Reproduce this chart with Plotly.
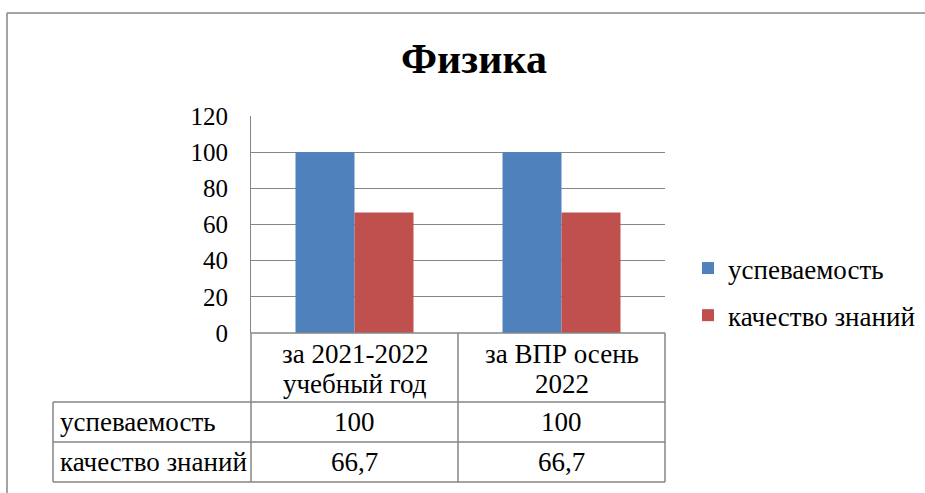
import plotly.graph_objects as go

categories = ["за 2021-2022<br>учебный год", "за ВПР осень<br>2022"]
series_names = ["успеваемость", "качество знаний"]
uspev = [100, 100]
kachestvo = [66.7, 66.7]
colors = ["#4F81BD", "#C0504D"]
title = "Физика"

W, H = 925, 493
def px(x):
    return x / W
def py(y):
    return 1 - y / H

FONT = "Liberation Serif"
FS = 27      # table / legend text
FS_TICK = 25
GRID = "#868686"

# plot area in pixels
L, R, T, B = 251, 665, 116, 333

fig = go.Figure()
for name, vals, col in zip(series_names, [uspev, kachestvo], colors):
    fig.add_trace(go.Bar(x=categories, y=vals, name=name, marker=dict(color=col, line=dict(width=0)),
                         legendgroup=name))

fig.update_layout(
    template="none",
    width=W, height=H,
    margin=dict(l=0, r=0, t=0, b=0, pad=0, autoexpand=False),
    paper_bgcolor="white", plot_bgcolor="white",
    font=dict(family=FONT, size=FS, color="black"),
    title=dict(text="<b>" + title + "</b>", x=px(474), xanchor="center", y=py(58), yanchor="middle",
               font=dict(size=42, family=FONT, color="black")),
    barmode="group", bargap=0.43, bargroupgap=0,
    showlegend=True,
    legend=dict(x=px(688), y=py(244), xanchor="left", yanchor="top",
                font=dict(size=FS, family=FONT, color="black"), tracegroupgap=9, traceorder="grouped",
                bgcolor="rgba(0,0,0,0)", borderwidth=0),
    xaxis=dict(domain=[px(L), px(R)], showticklabels=False, showgrid=False, zeroline=False,
               showline=False, ticks=""),
    yaxis=dict(domain=[py(B), py(T)], range=[0, 120], dtick=20, showgrid=True, gridcolor=GRID,
               gridwidth=1, zeroline=False, showline=True, linecolor=GRID, linewidth=1,
               ticks="", ticklabelstandoff=17, tickfont=dict(size=FS_TICK, family=FONT, color="black")),
)

shapes = []
def line(x0, y0, x1, y1):
    shapes.append(dict(type="line", xref="paper", yref="paper", x0=px(x0), y0=py(y0), x1=px(x1), y1=py(y1),
                       line=dict(color=GRID, width=1.5)))

# outer chart frame
line(7, 13, 925, 13)
line(7, 13, 7, 493)

# table
TL = 53
rows_y = [B, 402, 442, 482]
col_x = [L, (L + R) / 2, R]
line(L, B, R, B)
for yy in rows_y[1:]:
    line(TL, yy, R, yy)
for xx in col_x:
    line(xx, B, xx, rows_y[-1])
line(TL, rows_y[1], TL, rows_y[-1])

tfont = dict(size=FS, family=FONT, color="black")
annotations = []
header_line_y = [354, 384]
for cat in categories:
    for k, part in enumerate(cat.split("<br>")):
        annotations.append(dict(x=cat, xref="x", y=py(header_line_y[k]), yref="paper", text=part,
                                xanchor="center", yanchor="middle", showarrow=False, font=tfont))

def fmt(v):
    return ("%g" % v).replace(".", ",")

for i, (name, vals) in enumerate(zip(series_names, [uspev, kachestvo])):
    yc = py((rows_y[i + 1] + rows_y[i + 2]) / 2)
    annotations.append(dict(x=px(TL + 5), xref="paper", xanchor="left", y=yc, yref="paper", yanchor="middle",
                            text=name, showarrow=False, font=tfont))
    for cat, v in zip(categories, vals):
        annotations.append(dict(x=cat, xref="x", xanchor="center", y=yc, yref="paper", yanchor="middle",
                                text=fmt(v), showarrow=False, font=tfont))

fig.update_layout(shapes=shapes, annotations=annotations)
fig.write_html("out.html", config={"displayModeBar": False},
               post_script="document.body.style.margin='0';")
